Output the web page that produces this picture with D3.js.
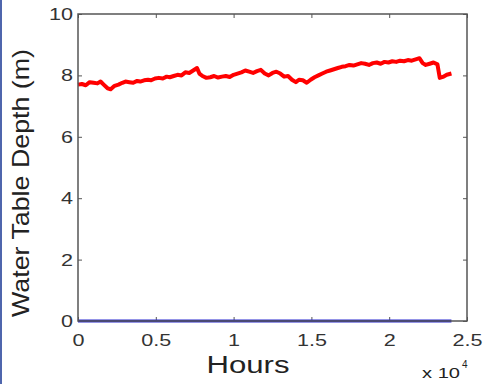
<!DOCTYPE html>
<html><head><meta charset="utf-8">
<script src="https://cdn.jsdelivr.net/npm/d3@7"></script>
<style>body{margin:0;background:#fff;}svg{display:block;font-family:"Liberation Sans",Arial,Helvetica,sans-serif;}</style>
</head><body>
<script>
const redHours = [0,250,500,750,1000,1250,1450,1650,1900,2100,2350,2600,2850,3050,3300,3550,3800,4000,4250,4500,4700,4950,5200,5450,5700,5900,6150,6400,6650,6900,7150,7400,7650,7800,8000,8250,8500,8750,9000,9250,9500,9750,10000,10250,10500,10750,11000,11250,11500,11750,12000,12250,12500,12750,13000,13250,13500,13750,14000,14200,14450,14700,14950,15200,15450,15700,15950,16200,16450,16700,16950,17200,17450,17700,17950,18200,18450,18700,18950,19200,19450,19700,19950,20200,20450,20700,20950,21200,21450,21700,21950,22150,22350,22600,22850,23100,23250,23450,23700,24000];
const redDepth = [7.70,7.72,7.68,7.78,7.76,7.74,7.80,7.70,7.58,7.55,7.66,7.70,7.76,7.80,7.78,7.76,7.82,7.80,7.84,7.86,7.84,7.90,7.92,7.90,7.96,7.94,7.98,8.02,8.00,8.10,8.08,8.16,8.24,8.06,7.98,7.92,7.94,7.98,7.93,7.96,7.98,7.95,8.02,8.06,8.10,8.16,8.12,8.08,8.14,8.18,8.06,8.00,8.08,8.12,8.06,7.96,7.98,7.86,7.78,7.86,7.84,7.76,7.86,7.94,8.00,8.06,8.12,8.16,8.20,8.24,8.28,8.30,8.34,8.32,8.36,8.40,8.38,8.34,8.40,8.42,8.38,8.44,8.42,8.46,8.44,8.48,8.46,8.50,8.48,8.52,8.56,8.40,8.34,8.38,8.42,8.36,7.92,7.95,8.02,8.06];
const blueHours = [0,24000];
const blueDepth = [0,0];
const xTicks = [0,5000,10000,15000,20000,25000];
const xTickLabels = ["0","0.5","1","1.5","2","2.5"];
const yTicks = [0,2,4,6,8,10];
const yTickLabels = ["0","2","4","6","8","10"];

const W=483,H=384, m={l:78,r:16,t:14,b:63};
const svg=d3.select("body").append("svg").attr("width",W).attr("height",H);
svg.append("rect").attr("x",0).attr("y",0).attr("width",2).attr("height",H).attr("fill","#4f66ad");
const x=d3.scaleLinear().domain([0,25000]).range([m.l,W-m.r]);
const y=d3.scaleLinear().domain([0,10]).range([H-m.b,m.t]);
const STR=1.27, axisCol="#555", txtCol="#333";

function styleAxis(g){
  g.select(".domain").remove();
  g.selectAll(".tick line").attr("stroke",axisCol).attr("stroke-width",1);
  g.selectAll("text").attr("fill",txtCol).attr("font-size",17).attr("font-family","Liberation Sans, Arial, sans-serif");
  g.selectAll("text").each(function(){const w=this.getComputedTextLength();d3.select(this).attr("textLength",w*STR).attr("lengthAdjust","spacingAndGlyphs");});
}
const gx=svg.append("g").attr("transform",`translate(0,${H-m.b})`)
  .call(d3.axisBottom(x).tickValues(xTicks).tickFormat((d,i)=>xTickLabels[i]).tickSizeInner(-4).tickSizeOuter(0).tickPadding(13));
styleAxis(gx);
const gy=svg.append("g").attr("transform",`translate(${m.l},0)`)
  .call(d3.axisLeft(y).tickValues(yTicks).tickFormat((d,i)=>yTickLabels[i]).tickSizeInner(-4).tickSizeOuter(0).tickPadding(5));
styleAxis(gy);
const gt=svg.append("g").attr("transform",`translate(0,${m.t})`)
  .call(d3.axisTop(x).tickValues(xTicks).tickFormat("").tickSizeInner(-4).tickSizeOuter(0));
styleAxis(gt);
const gr=svg.append("g").attr("transform",`translate(${W-m.r},0)`)
  .call(d3.axisRight(y).tickValues(yTicks).tickFormat("").tickSizeInner(-4).tickSizeOuter(0));
styleAxis(gr);

const line=d3.line().x(d=>x(d[0])).y(d=>y(d[1]));
svg.append("path").datum(blueHours.map((h,i)=>[h,blueDepth[i]])).attr("d",line)
  .attr("fill","none").attr("stroke","#2a2ad0").attr("stroke-width",3);
svg.append("path").datum(redHours.map((h,i)=>[h,redDepth[i]])).attr("d",line)
  .attr("fill","none").attr("stroke","#ff0000").attr("stroke-width",4).attr("stroke-linejoin","round");

svg.append("rect").attr("x",m.l).attr("y",m.t).attr("width",W-m.l-m.r).attr("height",H-m.t-m.b)
  .attr("fill","none").attr("stroke",axisCol).attr("stroke-width",1.5);

svg.append("text").attr("transform",`translate(29,${183}) rotate(-90)`).attr("text-anchor","middle")
  .attr("font-size",24).attr("fill","#222").attr("textLength",268).attr("lengthAdjust","spacingAndGlyphs")
  .text("Water Table Depth (m)");
svg.append("text").attr("x",248).attr("y",373).attr("text-anchor","middle")
  .attr("font-size",23).attr("fill","#222").attr("textLength",83).attr("lengthAdjust","spacingAndGlyphs").text("Hours");
svg.append("text").attr("x",422).attr("y",378).attr("font-size",15).attr("fill","#222")
  .attr("textLength",38).attr("lengthAdjust","spacingAndGlyphs").text("x 10");
svg.append("text").attr("x",462).attr("y",368).attr("font-size",10).attr("fill","#222").text("4");
</script>
</body></html>
